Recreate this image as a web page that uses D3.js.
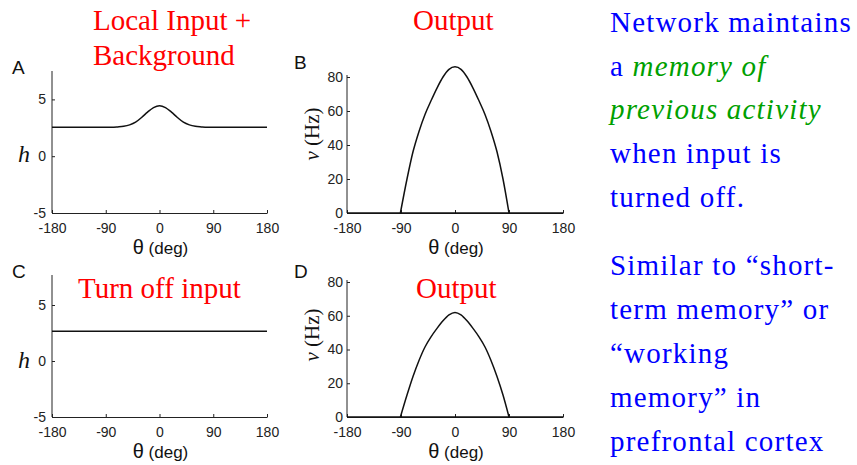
<!DOCTYPE html>
<html>
<head>
<meta charset="utf-8">
<script src="https://cdn.jsdelivr.net/npm/d3@7"></script>
<style>
  body { margin: 0; background: #fff; }
  svg { display: block; }
  .tick text { font-family: "Liberation Sans", Arial, sans-serif; font-size: 14px; fill: #222; }
  .domain, .tick line { stroke: #222; }
  .serif { font-family: "Liberation Serif", "Times New Roman", "DejaVu Serif", serif; }
  .sans { font-family: "Liberation Sans", Arial, sans-serif; }
</style>
</head>
<body>
<svg width="857" height="465"></svg>
<script>
// tick labels
var thetaTicks = [-180, -90, 0, 90, 180];
var hTicks = [-5, 0, 5];
var vTicks = [0, 20, 40, 60, 80];

// panel A: input + background
var thetaA = [-180, -80, -70, -60, -50, -40, -30, -20, -10, 0, 10, 20, 30, 40, 50, 60, 70, 80, 180];
var hA = [2.55, 2.55, 2.58, 2.63, 2.76, 3.0, 3.41, 3.88, 4.28, 4.45, 4.28, 3.88, 3.41, 3.0, 2.76, 2.63, 2.58, 2.55, 2.55];

// panel C: input turned off
var thetaC = [-180, 180];
var hC = [2.65, 2.65];

// panels B and D: output rates (zero outside the bump)
var thetaV = [-91, -80, -70, -60, -50, -40, -30, -20, -10, 0, 10, 20, 30, 40, 50, 60, 70, 80, 90];
var vB = [0, 20, 36, 48, 58, 66, 73.5, 80, 84.5, 86, 84.5, 80, 73.5, 66, 58, 48, 36, 20, 0];
var vD = [0, 13, 24, 33.5, 41.5, 47.5, 52.5, 57, 60.5, 62, 60.5, 57, 52.5, 47.5, 41.5, 33.5, 24, 13, 0];
var thetaZero = [-180, 180];

var svg = d3.select("svg");
svg.append("rect").attr("width", 857).attr("height", 465).attr("fill", "#fff");

function panel(o) {
    var x = d3.scaleLinear().domain([-180, 180]).range(o.xr);
    var y = d3.scaleLinear().domain(o.yd).range(o.yr);

    svg.append("g")
        .attr("transform", "translate(0," + o.yr[0] + ")")
        .call(d3.axisBottom(x).tickValues(thetaTicks).tickFormat(function(d) { return String(d); })
            .tickSizeInner(-3).tickSizeOuter(0).tickPadding(10));

    var ya = svg.append("g")
        .attr("transform", "translate(" + o.xr[0] + ",0)")
        .call(d3.axisLeft(y).tickValues(o.ticks).tickFormat(function(d) { return String(d); })
            .tickSizeInner(-3).tickSizeOuter(0).tickPadding(o.pad));
    ya.select(".domain").attr("d", "M0," + o.yr[0] + "V" + o.ytop);

    var line = d3.line()
        .x(function(d) { return x(d[0]); })
        .y(function(d) { return y(d[1]); })
        .curve(d3.curveMonotoneX);

    o.series.forEach(function(s) {
        svg.append("path")
            .datum(d3.zip(s[0], s[1]))
            .attr("fill", "none")
            .attr("stroke", "#111")
            .attr("stroke-width", 1.5)
            .attr("d", line);
    });

    // x label
    var xl = svg.append("text")
        .attr("class", "sans")
        .attr("x", (o.xr[0] + o.xr[1]) / 2 + 1)
        .attr("y", o.yr[0] + 41)
        .attr("text-anchor", "middle")
        .attr("fill", "#111");
    xl.append("tspan").style("font-size", "20px").text("θ");
    xl.append("tspan").style("font-size", "17px").text(" (deg)");

    // panel letter
    svg.append("text")
        .attr("class", "sans")
        .attr("x", o.lx).attr("y", o.ly)
        .style("font-size", "19px")
        .attr("fill", "#111")
        .text(o.letter);
}

panel({ xr: [52, 267], yd: [-5, 7.5], yr: [213, 71], ytop: 71, ticks: hTicks, pad: 6,
        series: [[thetaA, hA]], letter: "A", lx: 12, ly: 74 });
panel({ xr: [347, 563], yd: [0, 80], yr: [213, 77], ytop: 75, ticks: vTicks, pad: 4,
        series: [[thetaZero, [0, 0]], [thetaV, vB]], letter: "B", lx: 294, ly: 69 });
panel({ xr: [52, 267], yd: [-5, 7.5], yr: [417, 277], ytop: 275, ticks: hTicks, pad: 6,
        series: [[thetaC, hC]], letter: "C", lx: 12, ly: 278 });
panel({ xr: [347, 563], yd: [0, 80], yr: [417, 282], ytop: 280, ticks: vTicks, pad: 4,
        series: [[thetaZero, [0, 0]], [thetaV, vD]], letter: "D", lx: 294, ly: 278 });

// y labels
[162, 368].forEach(function(yy) {
    svg.append("text").attr("class", "serif").attr("x", 18).attr("y", yy)
        .style("font-style", "italic").style("font-size", "24px")
        .attr("fill", "#111").text("h");
});
[134, 335].forEach(function(yy) {
    var t = svg.append("text").attr("class", "serif")
        .attr("transform", "translate(319," + yy + ") rotate(-90)")
        .attr("text-anchor", "middle")
        .style("font-size", "21px").attr("fill", "#111");
    t.append("tspan").style("font-style", "italic").text("v");
    t.append("tspan").text(" (Hz)");
});

// red titles
var titles = [
    ["Local Input +", 93, 30],
    ["Background", 93, 65],
    ["Output", 413, 30],
    ["Turn off input", 78, 298],
    ["Output", 416, 298]
];
svg.selectAll(".title").data(titles).enter().append("text")
    .attr("class", "title serif")
    .attr("x", function(d) { return d[1]; })
    .attr("y", function(d) { return d[2]; })
    .style("font-size", "29px").attr("fill", "#ff0000")
    .text(function(d) { return d[0]; });

// right hand notes
var blue = "#0000ff", green = "#00a000";
var notes = [
    [[["Network maintains", blue, false]], 32],
    [[["a ", blue, false], ["memory of", green, true]], 76],
    [[["previous activity", green, true]], 119],
    [[["when input is", blue, false]], 163],
    [[["turned off.", blue, false]], 207],
    [[["Similar to \u201cshort-", blue, false]], 275],
    [[["term memory\u201d or", blue, false]], 319],
    [[["\u201cworking", blue, false]], 363],
    [[["memory\u201d in", blue, false]], 407],
    [[["prefrontal cortex", blue, false]], 451]
];
notes.forEach(function(n) {
    var t = svg.append("text").attr("class", "serif").attr("x", 610).attr("y", n[1])
        .style("font-size", "29px").style("letter-spacing", "1.2px");
    n[0].forEach(function(s) {
        t.append("tspan").attr("fill", s[1])
            .style("font-style", s[2] ? "italic" : "normal")
            .text(s[0]);
    });
});
</script>
</body>
</html>
